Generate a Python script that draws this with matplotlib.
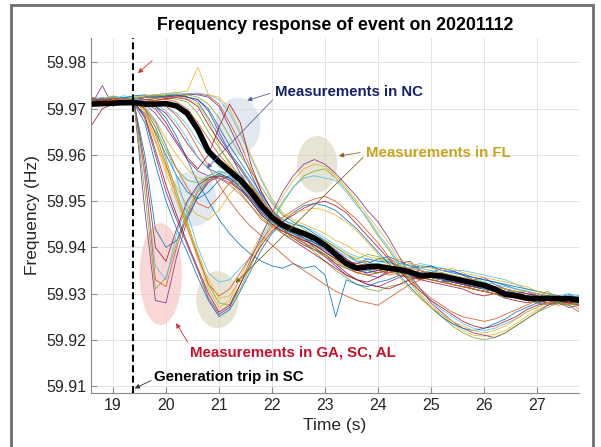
import numpy as np
import matplotlib
matplotlib.use('Agg')
import matplotlib.pyplot as plt
from matplotlib.patches import Ellipse, Rectangle

plt.rcParams['font.family'] = ['Liberation Sans', 'DejaVu Sans']

# time stamps (s)
t = [18.6, 18.8, 19.0, 19.2, 19.4, 19.6, 19.8, 20.0, 20.2, 20.4,
     20.6, 20.8, 21.0, 21.2, 21.4, 21.6, 21.8, 22.0, 22.2, 22.4,
     22.6, 22.8, 23.0, 23.2, 23.4, 23.6, 23.8, 24.0, 24.2, 24.4,
     24.6, 24.8, 25.0, 25.2, 25.4, 25.6, 25.8, 26.0, 26.2, 26.4,
     26.6, 26.8, 27.0, 27.2, 27.4, 27.6, 27.8]

# all frequencies below in mHz above 59.9 Hz
mean_mhz = [71.0, 71.1, 71.2, 71.3, 71.3, 71.0, 71.0, 71.1, 70.6, 69.0,
            65.5, 60.8, 58.5, 56.5, 54.6, 52.0, 49.0, 46.5, 44.8, 43.8,
            43.0, 42.0, 40.5, 38.5, 36.5, 35.5, 35.8, 35.9, 35.5, 35.2,
            34.7, 33.8, 34.0, 33.8, 33.3, 32.8, 32.3, 31.8, 31.0, 29.8,
            29.6, 29.0, 28.9, 29.0, 28.9, 28.9, 28.6]

# bulk of PMUs (late drop)
bulk = [
    [72.0, 72.3, 71.8, 72.5, 72.2, 72.6, 72.4, 72.8, 73.0, 72.6, 71.5, 68.0, 64.0, 60.5, 57.5, 54.0,
     50.5, 47.5, 45.0, 43.5, 42.8, 41.0, 39.5, 38.0, 37.0, 36.5, 37.5, 37.0, 36.8, 36.0, 35.5, 36.0,
     35.8, 35.0, 34.8, 34.2, 33.5, 33.0, 32.5, 31.8, 31.0, 30.5, 30.0, 29.5, 29.2, 29.8, 29.0],
    [71.5, 71.0, 71.8, 71.2, 71.6, 71.9, 72.2, 72.0, 72.5, 73.0, 73.2, 72.8, 71.0, 67.0, 62.5, 57.0,
     52.0, 48.0, 45.5, 44.0, 43.0, 42.0, 40.5, 38.0, 36.0, 34.5, 35.0, 35.5, 34.0, 34.5, 33.5, 33.0,
     34.0, 33.5, 32.5, 32.0, 31.0, 30.5, 31.0, 30.0, 29.5, 29.0, 28.5, 29.0, 28.0, 28.5, 27.5],
    [72.5, 72.0, 72.8, 72.2, 72.4, 72.0, 71.8, 72.3, 72.6, 72.2, 71.0, 67.5, 62.0, 58.0, 55.5, 53.0,
     49.5, 46.0, 44.5, 44.0, 42.0, 40.0, 38.5, 37.0, 36.0, 35.0, 34.5, 35.5, 36.0, 35.5, 36.5, 35.0,
     34.5, 34.0, 33.5, 33.0, 33.5, 32.5, 31.5, 31.0, 30.5, 30.0, 29.5, 29.0, 29.5, 29.0, 28.5],
    [71.0, 75.0, 70.5, 72.0, 71.5, 72.5, 73.0, 72.6, 72.8, 73.2, 73.0, 72.5, 70.5, 66.0, 61.0, 56.0,
     51.0, 47.0, 45.0, 44.5, 43.5, 42.5, 41.0, 39.5, 37.5, 36.0, 34.0, 33.5, 35.0, 36.5, 37.0, 35.0,
     34.5, 35.5, 35.0, 34.0, 33.0, 33.5, 32.0, 31.0, 30.0, 30.5, 29.5, 28.5, 28.0, 28.5, 29.0],
    [71.8, 72.2, 71.5, 72.0, 71.8, 72.0, 72.3, 72.5, 72.0, 71.5, 69.0, 65.0, 61.5, 58.5, 55.0, 51.0,
     47.5, 45.5, 44.0, 42.5, 41.0, 39.0, 37.0, 35.0, 33.5, 32.0, 31.0, 30.5, 31.5, 32.0, 33.0, 34.0,
     33.5, 33.0, 32.5, 32.0, 31.5, 31.0, 30.5, 30.0, 30.5, 29.5, 29.0, 29.5, 28.5, 28.0, 28.5],
    [72.0, 72.5, 72.2, 72.8, 72.5, 72.9, 73.0, 73.3, 73.5, 73.2, 73.4, 73.0, 72.0, 69.0, 64.5, 59.5,
     54.5, 50.0, 47.0, 45.5, 44.5, 43.5, 42.0, 40.5, 39.0, 38.0, 37.5, 37.0, 37.5, 36.5, 36.0, 36.5,
     36.0, 35.5, 35.0, 35.0, 34.5, 34.0, 33.5, 33.0, 32.0, 31.0, 30.5, 30.0, 29.5, 30.0, 29.5],
    [66.5, 70.0, 71.0, 71.8, 71.6, 72.0, 71.8, 72.2, 72.4, 72.0, 70.5, 66.5, 63.0, 60.0, 57.0, 53.5,
     50.0, 46.5, 44.0, 42.0, 40.5, 39.5, 38.5, 36.5, 34.5, 33.0, 32.5, 33.5, 34.5, 35.0, 34.0, 33.0,
     32.5, 32.0, 31.5, 31.0, 30.0, 29.5, 30.0, 29.0, 28.5, 28.0, 28.5, 29.0, 28.5, 28.0, 27.5],
    [72.2, 72.0, 72.6, 72.3, 72.8, 73.0, 72.5, 72.8, 73.0, 72.5, 72.0, 70.0, 66.0, 62.0, 58.5, 55.0,
     51.5, 48.0, 46.0, 45.0, 44.5, 43.0, 41.5, 40.0, 38.5, 37.0, 36.5, 37.5, 38.0, 37.0, 36.0, 35.5,
     36.0, 35.0, 34.5, 34.0, 33.5, 33.0, 32.5, 32.0, 31.5, 31.0, 30.5, 30.0, 29.5, 29.0, 29.5],
    [70.5, 71.0, 71.5, 70.8, 71.0, 71.5, 71.8, 72.0, 71.5, 70.0, 67.0, 63.5, 60.0, 57.5, 55.0, 52.0,
     49.0, 46.0, 44.0, 43.0, 41.5, 40.5, 39.5, 38.5, 37.0, 36.0, 35.5, 35.0, 35.5, 34.5, 34.0, 34.5,
     33.5, 33.0, 32.0, 31.5, 31.0, 30.5, 30.0, 29.5, 29.0, 29.5, 28.5, 28.0, 28.5, 27.5, 26.0],
    [72.0, 72.3, 72.6, 72.0, 72.4, 72.8, 73.0, 73.2, 73.5, 73.8, 79.0, 73.0, 72.5, 70.0, 65.0, 60.0,
     55.0, 50.5, 47.5, 46.0, 45.0, 44.0, 43.0, 41.5, 40.5, 39.0, 38.0, 37.5, 37.0, 37.5, 36.5, 36.0,
     35.5, 35.0, 35.5, 34.5, 34.0, 33.5, 33.0, 32.5, 32.0, 31.5, 30.5, 30.0, 29.5, 29.0, 28.5],
    [71.5, 72.0, 71.8, 72.2, 72.0, 72.4, 72.6, 72.5, 72.8, 72.5, 72.0, 69.5, 65.0, 60.5, 56.0, 52.5,
     49.0, 46.5, 45.0, 43.5, 42.0, 40.0, 38.0, 36.0, 34.0, 33.0, 32.0, 31.5, 32.5, 33.5, 34.5, 35.0,
     34.0, 33.5, 33.0, 32.5, 32.0, 31.0, 30.5, 30.0, 29.5, 29.0, 28.0, 27.5, 28.0, 27.0, 27.5],
    [72.0, 71.5, 72.5, 72.0, 72.3, 72.5, 72.8, 73.0, 73.2, 73.0, 72.5, 71.0, 68.0, 64.0, 60.0, 56.5,
     53.0, 49.5, 47.0, 45.5, 44.0, 42.5, 41.5, 40.0, 38.5, 37.5, 38.5, 38.0, 37.0, 36.0, 35.0, 34.5,
     35.0, 34.5, 34.0, 33.0, 32.5, 32.0, 31.0, 30.5, 30.0, 30.0, 29.5, 30.5, 29.0, 28.5, 26.5],
    [72.0, 72.2, 71.6, 72.0, 71.7, 71.5, 71.2, 70.5, 69.0, 66.5, 63.0, 60.0, 57.5, 56.0, 54.5, 52.5,
     49.5, 46.5, 44.0, 42.5, 41.0, 39.5, 38.0, 36.5, 35.5, 35.0, 34.5, 35.0, 36.0, 35.5, 35.0, 34.5,
     35.0, 34.0, 33.5, 33.0, 32.5, 32.0, 31.5, 31.0, 30.5, 30.0, 29.5, 29.0, 29.5, 29.0, 28.5],
    [71.0, 71.3, 71.6, 71.2, 71.5, 71.2, 70.5, 69.0, 66.0, 62.5, 59.5, 57.0, 56.0, 55.0, 53.5, 51.0,
     48.0, 45.0, 43.0, 41.5, 40.0, 38.5, 37.0, 35.5, 34.0, 33.0, 32.0, 31.5, 31.0, 32.0, 33.0, 33.5,
     33.0, 32.5, 32.0, 31.5, 31.0, 30.5, 30.0, 29.5, 29.0, 29.0, 28.5, 28.0, 28.0, 28.5, 28.0],
    [72.0, 72.2, 71.8, 72.1, 71.9, 71.5, 70.5, 68.0, 64.0, 59.0, 54.0, 50.0, 46.0, 43.0, 40.5, 38.5,
     37.0, 36.0, 35.5, 36.5, 35.5, 36.0, 34.0, 25.0, 33.0, 32.0, 31.5, 32.5, 33.0, 34.0, 33.5, 34.0,
     33.0, 32.5, 33.0, 32.0, 31.5, 31.0, 30.5, 30.0, 29.5, 29.0, 29.5, 29.0, 28.5, 28.0, 28.5],
    [71.5, 71.8, 71.6, 72.0, 71.8, 72.0, 71.5, 70.5, 68.5, 65.5, 61.5, 57.5, 53.5, 50.0, 47.0, 44.5,
     42.5, 40.5, 38.5, 36.5, 35.0, 33.5, 32.0, 30.5, 29.5, 28.5, 28.0, 27.5, 29.0, 30.5, 32.0, 33.0,
     33.5, 33.0, 32.5, 32.0, 31.5, 31.0, 30.5, 30.0, 29.5, 29.0, 28.5, 28.0, 28.0, 27.5, 28.0],
]

# PMUs with an intermediate drop (fan between the dips and the bulk)
mid = [
    [71.7, 71.4, 71.9, 71.6, 71.5, 70.5, 67.5, 63.5, 60.0, 57.0, 55.0, 54.5, 55.5, 55.0, 53.5, 51.0,
     48.0, 45.5, 44.0, 43.5, 42.5, 41.5, 40.0, 38.5, 37.0, 36.0, 35.5, 36.0, 35.0, 34.5, 35.0, 34.0,
     33.5, 34.0, 33.0, 32.5, 32.0, 31.5, 31.0, 30.5, 30.0, 29.5, 29.0, 29.5, 28.5, 28.0, 28.5],
    [72.1, 71.8, 72.3, 71.9, 71.7, 71.0, 69.0, 66.0, 62.5, 59.0, 56.5, 55.5, 55.0, 54.0, 52.5, 50.5,
     48.0, 46.0, 44.5, 43.5, 42.0, 41.0, 39.5, 38.0, 37.0, 36.5, 37.0, 36.0, 35.5, 35.0, 34.5, 35.0,
     34.0, 33.5, 33.0, 32.5, 32.0, 32.0, 31.0, 30.5, 30.0, 29.5, 30.0, 29.0, 28.5, 28.5, 28.0],
    [71.3, 71.6, 71.2, 71.7, 71.4, 70.0, 66.0, 61.0, 57.0, 54.5, 54.0, 55.5, 56.5, 56.0, 54.0, 51.5,
     48.5, 46.0, 44.5, 43.0, 42.0, 40.5, 39.0, 37.5, 36.5, 35.5, 35.0, 34.5, 35.5, 34.5, 34.0, 33.5,
     33.0, 33.5, 32.5, 32.0, 31.5, 31.0, 30.5, 30.0, 29.5, 29.0, 28.5, 28.5, 28.0, 27.5, 28.0],
    [72.4, 72.1, 72.6, 72.2, 72.0, 71.8, 71.0, 69.5, 67.0, 63.5, 59.5, 57.0, 56.0, 56.5, 56.0, 54.0,
     51.0, 48.0, 46.0, 44.5, 43.5, 42.5, 41.0, 39.5, 38.0, 37.0, 36.5, 36.5, 37.0, 36.0, 35.5, 35.5,
     35.0, 34.5, 34.0, 33.5, 33.0, 32.5, 32.0, 31.5, 31.0, 30.5, 30.0, 29.5, 29.5, 29.0, 29.0],
]

# NC measurements (early partial dip)
nc = [
    [71.0, 71.5, 71.2, 71.8, 71.5, 71.0, 70.0, 67.0, 63.0, 59.5, 57.0, 60.0, 66.0, 71.0, 67.0, 58.0,
     52.0, 48.0, 45.5, 44.0, 43.0, 42.0, 40.5, 39.0, 37.5, 36.0, 35.0, 35.5, 36.0, 35.5, 35.0, 34.5,
     34.0, 34.5, 33.5, 33.0, 32.5, 32.0, 31.5, 31.0, 30.5, 30.0, 29.5, 29.0, 29.5, 29.0, 28.5],
    [71.5, 71.2, 71.8, 71.5, 71.0, 69.0, 65.0, 60.0, 55.5, 52.0, 50.5, 52.0, 54.5, 55.5, 54.0, 51.5,
     48.5, 46.0, 44.5, 43.0, 42.0, 41.0, 40.0, 38.0, 36.5, 35.5, 35.0, 34.5, 35.0, 35.5, 34.5, 34.0,
     33.5, 33.0, 32.5, 32.0, 31.5, 31.0, 30.5, 30.0, 29.5, 29.0, 29.5, 28.5, 28.0, 28.5, 28.0],
    [72.0, 71.8, 72.2, 71.9, 71.5, 70.0, 67.0, 62.0, 57.0, 53.0, 49.5, 48.5, 51.0, 54.0, 55.0, 53.0,
     50.0, 47.0, 45.0, 43.5, 42.5, 41.5, 40.0, 38.5, 37.0, 36.5, 36.0, 35.0, 34.5, 35.0, 35.5, 35.0,
     34.0, 33.5, 33.0, 32.5, 32.5, 31.5, 31.0, 30.5, 30.0, 29.5, 29.0, 28.5, 29.0, 28.0, 28.5],
    [71.6, 71.9, 71.4, 71.7, 71.3, 68.0, 63.0, 57.5, 53.0, 49.0, 47.0, 46.0, 48.0, 51.5, 54.0, 53.5,
     50.5, 47.5, 45.5, 44.5, 43.5, 42.5, 41.0, 40.0, 38.5, 37.5, 36.5, 36.0, 36.5, 36.0, 35.5, 35.0,
     34.5, 34.5, 34.0, 33.5, 33.0, 32.0, 31.5, 31.0, 30.5, 30.5, 30.0, 29.5, 29.0, 29.5, 29.0],
]

# GA, SC, AL measurements (deep dip right after the trip)
ga_sc_al = [
    [71.5, 71.8, 72.0, 71.4, 71.0, 48.0, 28.5, 28.0, 38.0, 46.0, 51.0, 54.0, 55.5, 55.0, 53.0, 50.0,
     47.0, 45.0, 43.5, 42.5, 41.5, 40.5, 39.0, 37.5, 36.0, 35.0, 34.5, 35.0, 35.5, 35.0, 34.5, 34.0,
     33.5, 33.0, 32.5, 32.0, 31.5, 31.0, 30.5, 30.0, 29.5, 29.0, 29.5, 28.5, 28.0, 28.5, 28.0],
    [71.0, 71.5, 71.2, 71.8, 70.8, 52.0, 31.0, 33.5, 41.0, 48.0, 52.5, 55.0, 56.0, 54.5, 52.0, 49.0,
     46.5, 44.5, 43.0, 42.0, 41.0, 40.0, 38.5, 37.0, 35.5, 34.5, 34.0, 34.5, 35.0, 34.5, 34.0, 33.5,
     33.0, 32.5, 32.0, 31.5, 31.0, 30.5, 30.0, 29.5, 29.0, 28.5, 28.0, 28.5, 28.0, 27.5, 28.0],
    [71.8, 72.0, 71.5, 72.2, 71.2, 55.0, 36.0, 33.0, 43.0, 49.5, 53.0, 55.5, 56.5, 55.5, 53.5, 50.5,
     47.5, 45.5, 44.0, 43.0, 42.0, 41.0, 39.5, 38.0, 36.5, 35.5, 35.0, 35.5, 36.0, 35.0, 34.5, 34.0,
     33.5, 33.0, 33.0, 32.5, 32.0, 31.0, 30.5, 30.0, 29.5, 29.5, 29.0, 28.5, 29.0, 28.5, 28.0],
    [72.2, 71.8, 72.0, 71.6, 71.3, 58.0, 40.0, 37.0, 44.0, 50.0, 53.5, 55.0, 55.5, 54.5, 52.5, 50.0,
     47.0, 45.0, 43.5, 42.5, 41.5, 40.5, 39.0, 37.5, 36.0, 35.0, 35.5, 36.0, 35.5, 35.0, 34.5, 34.0,
     34.5, 33.5, 33.0, 32.5, 32.0, 31.5, 31.0, 30.5, 30.0, 29.5, 29.0, 28.5, 28.5, 28.0, 28.5],
    [71.5, 71.2, 71.6, 71.3, 71.0, 60.0, 44.0, 40.0, 41.5, 46.5, 51.0, 54.5, 56.0, 55.0, 53.0, 50.5,
     47.5, 45.5, 44.0, 43.0, 42.0, 41.0, 40.0, 38.5, 37.0, 36.0, 35.5, 35.5, 35.0, 35.5, 35.0, 34.5,
     34.0, 33.5, 33.0, 32.5, 32.0, 31.5, 31.0, 30.5, 30.0, 29.5, 29.0, 29.0, 28.5, 28.0, 28.5],
    [71.8, 71.5, 72.0, 71.7, 71.4, 56.0, 33.0, 31.5, 40.0, 47.0, 52.0, 54.5, 55.0, 53.5, 51.5, 49.0,
     46.0, 44.5, 43.5, 42.5, 41.0, 39.5, 38.0, 36.5, 35.5, 34.5, 34.0, 34.5, 35.0, 34.0, 33.5, 33.5,
     33.0, 32.5, 32.0, 31.5, 31.0, 30.5, 30.0, 29.5, 29.0, 28.5, 28.5, 28.0, 27.5, 28.0, 27.5],
]

# FL measurements (dip at 21 s, hump near 23 s, trough near 26 s)
fl = [
    [71.5, 71.8, 71.4, 72.0, 71.5, 69.5, 63.0, 56.0, 50.0, 44.0, 37.5, 31.0, 27.0, 28.5, 33.5, 38.5,
     43.0, 47.0, 51.0, 54.5, 57.0, 58.0, 57.5, 55.5, 53.0, 50.0, 47.0, 44.0, 41.0, 37.0, 33.5, 30.0,
     27.5, 25.5, 23.5, 22.0, 21.0, 20.8, 21.2, 22.0, 23.5, 25.0, 26.5, 27.5, 28.5, 29.0, 29.0],
    [71.8, 72.0, 71.6, 71.9, 71.4, 68.0, 60.0, 52.0, 46.0, 40.5, 35.0, 29.0, 25.5, 27.0, 32.0, 37.5,
     42.5, 47.5, 52.0, 55.5, 58.0, 59.0, 58.0, 56.0, 53.5, 51.0, 48.0, 45.5, 42.0, 38.0, 34.0, 31.0,
     28.0, 26.0, 24.0, 22.5, 21.5, 21.0, 20.5, 21.5, 23.0, 24.5, 26.0, 27.5, 28.5, 29.5, 29.0],
    [72.0, 71.6, 71.9, 71.5, 71.7, 70.0, 66.0, 59.0, 52.0, 45.5, 38.5, 32.0, 28.0, 27.5, 31.0, 36.0,
     41.0, 45.5, 49.5, 53.0, 55.5, 56.5, 57.0, 55.0, 52.5, 49.5, 46.0, 42.5, 39.5, 36.0, 32.5, 29.5,
     27.0, 25.0, 23.0, 21.5, 20.5, 20.0, 20.5, 21.5, 23.0, 24.5, 26.0, 27.0, 28.0, 28.5, 29.0],
    [71.4, 71.7, 71.3, 71.9, 71.6, 70.5, 67.5, 62.0, 55.0, 47.5, 40.0, 34.5, 32.5, 33.0, 35.5, 38.0,
     42.0, 46.0, 50.0, 53.0, 55.0, 55.5, 55.0, 54.5, 52.0, 49.0, 46.5, 43.0, 40.0, 36.5, 33.5, 31.0,
     28.5, 26.5, 25.0, 23.5, 22.5, 22.0, 22.5, 23.5, 24.5, 26.0, 27.0, 28.0, 28.5, 29.0, 28.5],
    [71.6, 71.9, 71.5, 71.7, 71.2, 68.5, 61.0, 53.5, 47.0, 41.0, 35.5, 30.0, 26.0, 27.5, 32.0, 36.5,
     40.5, 43.5, 45.5, 47.0, 48.5, 49.5, 50.0, 49.0, 47.5, 45.0, 42.5, 40.0, 37.5, 35.0, 32.5, 30.5,
     28.5, 27.0, 25.5, 24.0, 23.0, 22.5, 23.0, 24.0, 25.0, 26.5, 27.5, 28.0, 28.5, 28.0, 28.5],
    [71.2, 71.6, 71.0, 71.5, 71.0, 67.0, 58.0, 50.0, 44.0, 39.0, 33.5, 28.5, 25.0, 26.5, 30.5, 35.0,
     39.5, 43.0, 45.5, 47.5, 49.0, 49.5, 49.0, 48.0, 46.0, 44.0, 41.5, 39.0, 36.5, 34.0, 31.5, 29.0,
     27.0, 25.0, 23.5, 22.5, 22.0, 22.5, 23.5, 24.5, 26.0, 27.0, 28.0, 28.5, 29.0, 28.5, 28.0],
    [71.8, 72.1, 71.7, 72.2, 71.9, 70.0, 64.5, 58.0, 51.0, 44.5, 38.0, 32.0, 29.5, 31.0, 34.5, 38.0,
     41.5, 44.5, 46.5, 48.0, 49.5, 50.5, 51.0, 50.0, 48.0, 46.0, 43.5, 41.0, 38.0, 35.5, 33.0, 31.0,
     29.0, 27.5, 26.0, 25.0, 24.5, 24.0, 24.5, 25.5, 26.5, 27.5, 28.5, 29.0, 29.5, 29.0, 29.0],
    [71.3, 71.5, 71.9, 71.4, 71.6, 69.5, 63.5, 57.0, 51.0, 45.0, 39.0, 33.0, 29.0, 29.5, 33.0, 37.0,
     41.0, 44.0, 46.0, 47.5, 48.0, 48.5, 48.0, 47.0, 45.5, 43.5, 41.0, 38.5, 36.0, 33.5, 31.0, 29.0,
     27.0, 25.5, 24.0, 23.0, 22.0, 21.5, 22.0, 23.0, 24.5, 26.0, 27.0, 28.0, 28.5, 29.0, 28.5],
]

trip_time = 19.38

matlab_colors = ['#0072BD', '#D95319', '#EDB120', '#7E2F8E', '#77AC30', '#4DBEEE', '#A2142F']

fig = plt.figure(figsize=(6.01, 4.47), dpi=100)
fig.patches.append(Rectangle((11 / 601, -0.05), 582 / 601, 1.05 - 5 / 447, transform=fig.transFigure,
                             fill=False, edgecolor='#6e6e6e', lw=2))
ax = fig.add_axes([0.1514, 0.1208, 0.812, 0.7942])
ax.set_prop_cycle(color=matlab_colors)

# highlight ellipses
ax.add_patch(Ellipse((21.35, 59.9662), 0.86, 0.0124, color='#c9d6e3', alpha=0.55, lw=0, zorder=1))
ax.add_patch(Ellipse((20.5, 59.9505), 0.9, 0.0120, color='#c9d6e3', alpha=0.55, lw=0, zorder=1))
ax.add_patch(Ellipse((22.85, 59.9580), 0.76, 0.0122, color='#d9d3b8', alpha=0.6, lw=0, zorder=1))
ax.add_patch(Ellipse((20.97, 59.9287), 0.80, 0.0123, color='#d9d3b8', alpha=0.6, lw=0, zorder=1))
ax.add_patch(Ellipse((19.9, 59.9342), 0.80, 0.0220, color='#f7c6c6', alpha=0.7, lw=0, zorder=1))

tt = np.array(t)
for group in (bulk, mid, nc, ga_sc_al, fl):
    for row in group:
        ax.plot(tt, 59.9 + np.array(row) / 1000, lw=0.6, alpha=0.9, zorder=2)

ax.plot(tt, 59.9 + np.array(mean_mhz) / 1000, color='black', lw=4, zorder=4,
        solid_capstyle='butt')
ax.axvline(trip_time, color='black', lw=1.5, ls=(0, (3.3, 1.7)), zorder=5)

ax.set_xlim(18.585, 27.79)
ax.set_ylim(59.9085, 59.9853)
ax.set_xticks(range(19, 28))
ax.set_yticks([59.91, 59.92, 59.93, 59.94, 59.95, 59.96, 59.97, 59.98])
ax.set_yticklabels(['59.91', '59.92', '59.93', '59.94', '59.95', '59.96', '59.97', '59.98'])
ax.grid(True, color='#e4e4e4', lw=0.7)
ax.set_axisbelow(True)
for s in ('top', 'right'):
    ax.spines[s].set_visible(False)
for s in ('left', 'bottom'):
    ax.spines[s].set_color('#8a8a8a')
ax.tick_params(direction='in', length=4, colors='#8a8a8a', labelcolor='#262626', labelsize=11.5)
ax.set_xlabel('Time (s)', fontsize=12.5, color='#262626', labelpad=4)
ax.set_ylabel('Frequency (Hz)', fontsize=12.5, color='#262626', labelpad=4)
ax.set_title('Frequency response of event on 20201112', fontsize=12.8, fontweight='bold', pad=6)

navy = '#14216b'
gold = '#c9a21e'
olive = '#7d6b1c'
red = '#c8102e'


def arrow(tail, head, color, lw=0.6):
    ax.annotate('', xy=head, xytext=tail, zorder=6,
                arrowprops=dict(arrowstyle='-|>', color=color, lw=lw, mutation_scale=7,
                                shrinkA=0, shrinkB=0))


# annotations
arrow((19.74, 59.9804), (19.47, 59.9777), '#e03030')
ax.text(22.06, 59.9736, 'Measurements in NC', color=navy, fontsize=10.8, fontweight='bold',
        va='center', ha='left', zorder=6)
arrow((21.96, 59.9733), (21.53, 59.9718), '#5566a0')
arrow((22.01, 59.9719), (20.77, 59.9571), '#5566a0')
ax.text(23.78, 59.9605, 'Measurements in FL', color=gold, fontsize=10.8, fontweight='bold',
        va='center', ha='left', zorder=6)
arrow((23.66, 59.9605), (23.26, 59.9598), olive)
arrow((23.72, 59.9595), (21.31, 59.9323), olive)
ax.text(20.45, 59.9173, 'Measurements in GA, SC, AL', color=red, fontsize=10.8, fontweight='bold',
        va='center', ha='left', zorder=6)
arrow((20.41, 59.9195), (20.19, 59.9236), '#d03030')
ax.text(19.77, 59.9120, 'Generation trip in SC', color='black', fontsize=10.8, fontweight='bold',
        va='center', ha='left', zorder=6)
arrow((19.72, 59.9112), (19.41, 59.9095), '#303030')

fig.savefig('out.png', dpi=100)
